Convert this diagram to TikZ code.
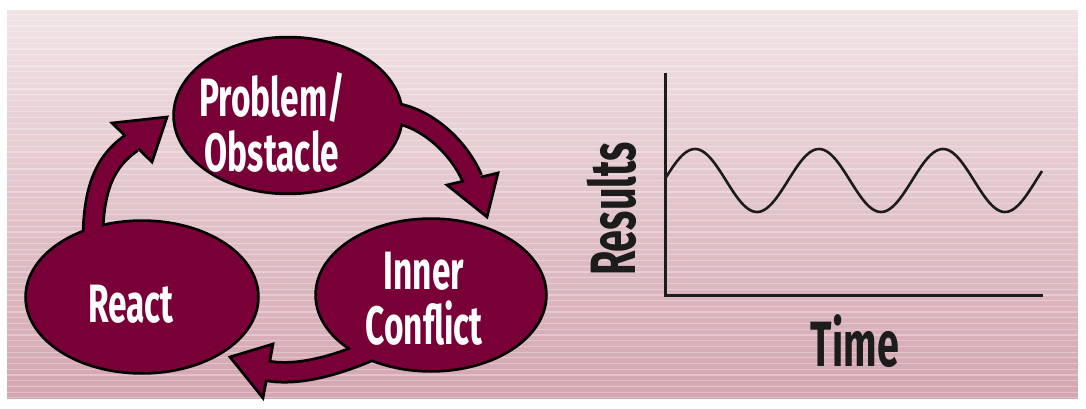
\documentclass[tikz,border=0pt]{standalone}
\usepackage{fontspec}
\newfontfamily\labfont[FakeStretch=0.62]{Fira Sans}
\usetikzlibrary{shapes.geometric,calc}
\definecolor{wine}{RGB}{120,0,55}
\definecolor{bgtop}{RGB}{240,226,229}
\definecolor{bgbot}{RGB}{212,166,177}
\definecolor{ink}{RGB}{28,28,28}
\begin{document}
\begin{tikzpicture}[x=1pt,y=-1pt,
  bubble/.style={ellipse, fill=wine, draw=black, line width=5.5pt, inner sep=0pt},
  bubbletext/.style={text=white, align=center, font=\labfont\bfseries\fontsize{54}{55}\selectfont, inner sep=0pt},
  axislabel/.style={text=ink, font=\labfont\bfseries\fontsize{64}{64}\selectfont, inner sep=0pt},
  shaft/.style={draw=wine, line width=17pt, preaction={draw=black, line width=22.5pt}},
  headtri/.style={fill=wine, draw=black, line width=2.7pt, line join=miter},
  cover/.style={draw=wine, line width=17pt},
  axisline/.style={draw=ink, line width=3pt},
  wave/.style={draw=ink, line width=2.6pt}]

\useasboundingbox (0,0) rectangle (1086,409);
\fill[white] (0,0) rectangle (1086,409);
\foreach \i in {0,...,67}{
  \pgfmathsetmacro\ya{10+\i*5.72}
  \pgfmathsetmacro\yb{\ya+5.72}
  \pgfmathtruncatemacro\p{\i*100/67}
  \fill[bgbot!\p!bgtop] (7,\ya) rectangle (1078,{\yb+0.3});
}
\foreach \i in {0,...,67}{
  \pgfmathsetmacro\yb{10+\i*5.72+5.72}
  \fill[white,opacity=0.3] (7,{\yb-1.7}) rectangle (1078,{\yb-0.5});
}

% bubbles
\node[bubble, minimum width=226pt, minimum height=154pt] (prob) at (288,115.5) {};
\node[bubble, minimum width=230pt, minimum height=150pt] (react) at (142,297) {};
\node[bubble, minimum width=228pt, minimum height=150pt] (inner) at (431,295) {};

% arrow heads geometry
\coordinate (t1) at (167,117); \coordinate (c1a) at (112,123); \coordinate (c1b) at (152,162);
\coordinate (t2) at (487,217); \coordinate (c2a) at (447,185); \coordinate (c2b) at (498,173);
\coordinate (t3) at (230,357); \coordinate (c3a) at (273,344); \coordinate (c3b) at (263,398);
\coordinate (b1) at ($(c1a)!0.5!(c1b)$);
\coordinate (b2) at ($(c2a)!0.5!(c2b)$);
\coordinate (b3) at ($(c3a)!0.5!(c3b)$);

% shafts
\path[shaft] ([shift={(-49,-42)}]react.center) .. controls (91,190) and (104,162) .. (b1);
\path[shaft] ([shift={(95,-3.5)}]prob.center) .. controls (420,112) and (457,143) .. (b2);
\path[shaft] ([shift={(-59,55)}]inner.center) .. controls (335,366) and (298,376) .. (b3);

% heads
\path[headtri] (t1) -- (c1a) -- (c1b) -- cycle;
\path[headtri] (t2) -- (c2a) -- (c2b) -- cycle;
\path[headtri] (t3) -- (c3a) -- (c3b) -- cycle;
\path[cover] ($(b1)!-3pt!(t1)$) -- ($(b1)!5pt!(t1)$);
\path[cover] ($(b2)!-3pt!(t2)$) -- ($(b2)!5pt!(t2)$);
\path[cover] ($(b3)!-3pt!(t3)$) -- ($(b3)!5pt!(t3)$);

% refill bubbles so shafts merge into them
\fill[wine] (prob.center) ellipse [x radius=113pt, y radius=77pt];
\fill[wine] (react.center) ellipse [x radius=115pt, y radius=75pt];
\fill[wine] (inner.center) ellipse [x radius=114pt, y radius=75pt];

% bubble texts
\node[bubbletext] (probT) at (272,122) {Problem/\\Obstacle};
\node[bubbletext, anchor=base] (reactT) at (131,322) {React};
\node[bubbletext] (innerT) at (424,299) {Inner\\Conflict};

% chart
\draw[axisline] (665,73) -- (665,295) -- (1043,295);
\draw[wave] plot[domain=665:1042, samples=160, smooth] (\x, {180.5-31.5*cos((\x-695)*2.9032)});
\node[axislabel, anchor=base] (timeT) at (855,366) {Time};
\node[axislabel, anchor=base, rotate=90] (resT) at (635,209) {Results};
\end{tikzpicture}
\end{document}
